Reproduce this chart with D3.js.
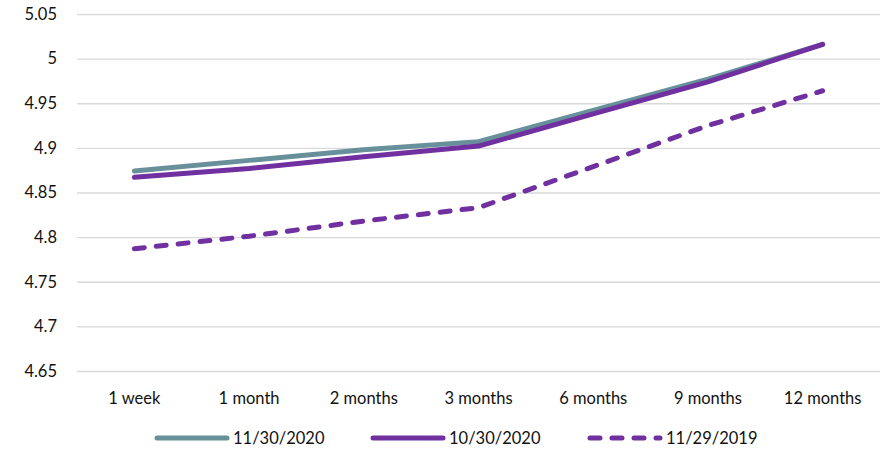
<!DOCTYPE html>
<html>
<head>
<meta charset="utf-8">
<script src="https://cdn.jsdelivr.net/npm/d3@7"></script>
<style>
  body { margin: 0; background: #fff; }
  svg text { font-family: Lato, "Open Sans", sans-serif; }
</style>
</head>
<body>
<script>
const categories = ['1 week', '1 month', '2 months', '3 months', '6 months', '9 months', '12 months']
const nov2020 = [4.874, 4.886, 4.898, 4.907, 4.942, 4.977, 5.016]
const oct2020 = [4.867, 4.877, 4.890, 4.902, 4.938, 4.974, 5.016]
const nov2019 = [4.787, 4.801, 4.818, 4.833, 4.879, 4.925, 4.964]
const yTicks = [4.65, 4.7, 4.75, 4.8, 4.85, 4.9, 4.95, 5, 5.05]
const seriesNames = ['11/30/2020', '10/30/2020', '11/29/2019']

const box = { width: 881, height: 452 }
const margin = { left: 77, right: 1, top: 14, bottom: 81 }

const series = [
  { name: seriesNames[0], values: nov2020, color: '#67909A', dash: null },
  { name: seriesNames[1], values: oct2020, color: '#7030A0', dash: null },
  { name: seriesNames[2], values: nov2019, color: '#7030A0', dash: '10,12' }
]

const svg = d3.select('body')
  .append('svg')
  .attr('width', box.width)
  .attr('height', box.height)
  .style('display', 'block')

const x = d3.scaleBand()
  .domain(categories)
  .range([margin.left, box.width - margin.right])

const y = d3.scaleLinear()
  .domain([4.65, 5.05])
  .range([box.height - margin.bottom, margin.top])

// grid
svg.append('g')
  .attr('transform', `translate(${margin.left},0)`)
  .call(d3.axisLeft(y).tickValues(yTicks).tickSize(-(box.width - margin.left - margin.right)).tickPadding(20)
    .tickFormat(d => d3.format('')(+d.toFixed(2))))
  .call(g => g.select('.domain').remove())
  .call(g => g.selectAll('.tick line').attr('stroke', '#d9d9d9').attr('stroke-width', 1.3))
  .call(g => g.selectAll('.tick text').attr('fill', '#111').style('font-size', '16.5px'))

// x axis labels
svg.append('g')
  .attr('transform', `translate(0,${box.height - margin.bottom})`)
  .call(d3.axisBottom(x).tickSize(0).tickPadding(21))
  .call(g => g.select('.domain').remove())
  .call(g => g.selectAll('.tick text').attr('fill', '#111').style('font-size', '16.5px'))

const line = d3.line()
  .x((d, i) => x(categories[i]) + x.bandwidth() / 2)
  .y(d => y(d))

svg.selectAll('.series')
  .data(series)
  .join('path')
  .attr('class', 'series')
  .attr('d', d => line(d.values))
  .attr('fill', 'none')
  .attr('stroke', d => d.color)
  .attr('stroke-width', 5)
  .attr('stroke-linecap', 'round')
  .attr('stroke-linejoin', 'round')
  .attr('stroke-dasharray', d => d.dash)

// legend
const legendX = [157, 373, 590]
const legend = svg.append('g')
  .selectAll('g')
  .data(series)
  .join('g')
  .attr('transform', (d, i) => `translate(${legendX[i]},438)`)

legend.append('line')
  .attr('x1', 0).attr('x2', 70)
  .attr('stroke', d => d.color)
  .attr('stroke-width', 5)
  .attr('stroke-linecap', 'round')
  .attr('stroke-dasharray', d => d.dash)

legend.append('text')
  .attr('x', 76)
  .attr('dy', '0.35em')
  .attr('fill', '#111')
  .style('font-size', '16.5px')
  .text(d => d.name)
</script>
</body>
</html>
